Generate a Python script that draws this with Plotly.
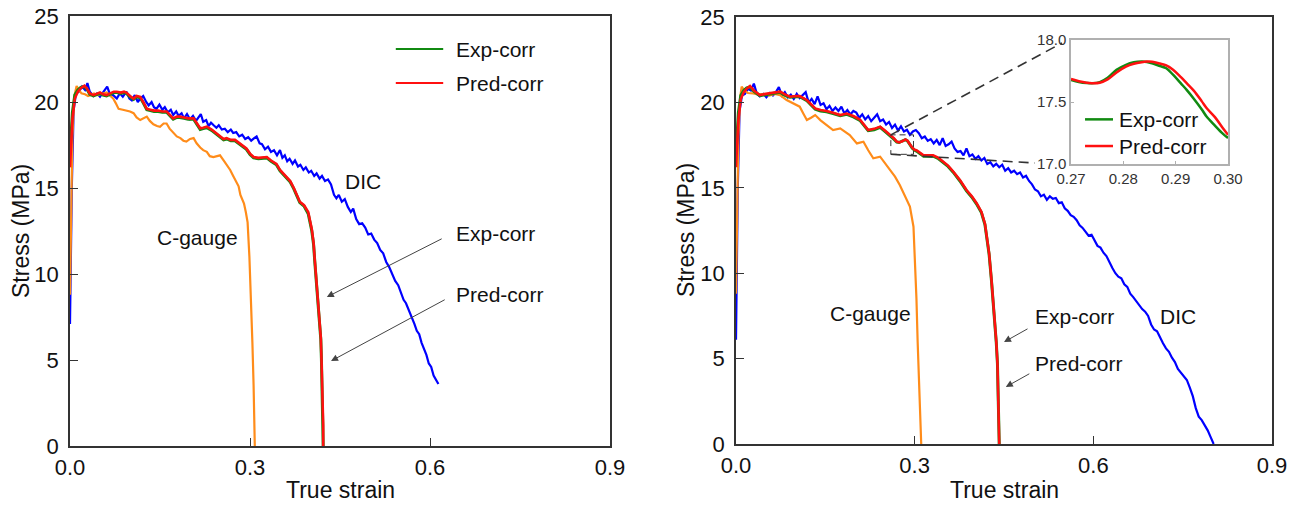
import plotly.graph_objects as go

# ---------------- data ----------------
# Left panel
dic1_x = [0, 0.003, 0.006, 0.010, 0.015, 0.020, 0.025, 0.029, 0.033, 0.039, 0.045, 0.050, 0.056, 0.062,
          0.067, 0.072, 0.078, 0.083, 0.088, 0.094, 0.099, 0.103, 0.108, 0.113, 0.117, 0.122, 0.127, 0.131,
          0.136, 0.140, 0.144, 0.149, 0.154, 0.158, 0.163, 0.168, 0.172, 0.177, 0.181, 0.186, 0.190, 0.195,
          0.200, 0.205, 0.210, 0.214, 0.218, 0.222, 0.227, 0.231, 0.235, 0.239, 0.244, 0.248, 0.253, 0.258,
          0.263, 0.268, 0.272, 0.277, 0.282, 0.287, 0.292, 0.297, 0.302, 0.307, 0.311, 0.316, 0.320, 0.325,
          0.330, 0.335, 0.340, 0.345, 0.350, 0.354, 0.358, 0.362, 0.366, 0.371, 0.375, 0.380, 0.384, 0.389,
          0.393, 0.398, 0.402, 0.407, 0.411, 0.416, 0.420, 0.425, 0.430, 0.435, 0.440, 0.444, 0.448, 0.453,
          0.458, 0.463, 0.468, 0.472, 0.477, 0.482, 0.487, 0.492, 0.497, 0.502, 0.507, 0.512, 0.517, 0.522,
          0.527, 0.532, 0.537, 0.542, 0.547, 0.551, 0.556, 0.560, 0.565, 0.570, 0.574, 0.578, 0.582, 0.586,
          0.590, 0.594, 0.598, 0.602, 0.606, 0.610, 0.614]
dic1_y = [7.1, 15.0, 19.5, 20.5, 20.6, 20.9, 20.7, 21.1, 20.6, 20.35, 20.5, 20.3, 20.6, 20.9,
          20.4, 20.4, 20.2, 20.5, 20.3, 20.6, 20.2, 20.1, 20.4, 20.0, 20.2, 20.35, 20.0, 19.8,
          20.0, 19.7, 19.6, 19.85, 19.55, 19.7, 19.4, 19.55, 19.25, 19.45, 19.2, 19.35, 19.05, 19.3,
          19.0, 19.2, 18.9, 19.1, 19.3, 18.85, 18.95, 18.6, 18.8, 18.66, 18.5, 18.65, 18.4, 18.45,
          18.25, 18.4, 18.2, 18.25, 18.0, 18.1, 17.85, 17.95, 17.75, 17.9, 18.0, 17.6, 17.55, 17.25,
          17.4, 17.1, 17.2, 16.9, 17.2, 16.75, 16.9, 16.55, 16.7, 16.4, 16.6, 16.25, 16.35, 16.05,
          16.2, 15.9, 16.0, 15.7, 15.85, 15.55, 15.7, 15.4, 15.5, 15.2, 14.6, 14.4, 14.6, 14.2,
          14.35, 13.9, 13.6, 13.8, 13.2, 12.9, 12.95, 12.7, 12.3, 12.35, 12.0, 11.8, 11.4, 11.2,
          10.7, 10.4, 10.0, 9.6, 9.35, 9.0, 8.5, 8.3, 7.9, 7.5, 7.1, 6.7, 6.5, 6.0,
          5.7, 5.3, 4.8, 4.6, 4.1, 3.8, 3.6]

cg1_x = [0, 0.002, 0.004, 0.007, 0.011, 0.015, 0.019, 0.025, 0.030, 0.034, 0.040, 0.046, 0.052, 0.057,
         0.061, 0.066, 0.072, 0.076, 0.081, 0.088, 0.095, 0.100, 0.106, 0.111, 0.117, 0.122, 0.128, 0.133,
         0.139, 0.145, 0.150, 0.156, 0.161, 0.166, 0.172, 0.178, 0.184, 0.189, 0.194, 0.200, 0.206, 0.211,
         0.217, 0.222, 0.228, 0.233, 0.239, 0.245, 0.250, 0.256, 0.262, 0.267, 0.272, 0.277, 0.281, 0.284,
         0.287, 0.290, 0.293, 0.296, 0.299, 0.302, 0.304, 0.306, 0.307, 0.308]
cg1_y = [8.8, 14.0, 18.0, 20.3, 20.93, 20.7, 20.5, 20.45, 20.35, 20.4, 20.5, 20.4, 20.45, 20.5,
         20.55, 20.4, 20.2, 19.95, 19.6, 19.55, 19.5, 19.45, 19.35, 19.1, 18.95, 19.05, 19.15, 18.9,
         18.7, 18.6, 18.56, 18.75, 18.75, 18.45, 18.2, 18.0, 17.9, 17.75, 17.7, 17.85, 17.9, 17.6,
         17.35, 17.2, 17.1, 16.85, 16.8, 16.85, 16.9, 16.6, 16.3, 16.05, 15.7, 15.35, 15.1, 14.6,
         14.3, 14.1, 13.6, 13.0, 11.0, 8.5, 6.0, 3.5, 1.5, 0.0]

pred1_x = [0, 0.004, 0.008, 0.013, 0.018, 0.024, 0.028, 0.033, 0.039, 0.045, 0.050, 0.055, 0.061, 0.067,
           0.073, 0.078, 0.085, 0.090, 0.094, 0.100, 0.106, 0.111, 0.117, 0.122, 0.128, 0.134, 0.140, 0.147,
           0.154, 0.161, 0.167, 0.172, 0.178, 0.183, 0.190, 0.197, 0.206, 0.212, 0.217, 0.222, 0.228, 0.236,
           0.244, 0.250, 0.256, 0.261, 0.268, 0.275, 0.282, 0.289, 0.294, 0.300, 0.306, 0.314, 0.322, 0.328,
           0.335, 0.344, 0.350, 0.356, 0.362, 0.367, 0.373, 0.378, 0.383, 0.390, 0.397, 0.403, 0.406, 0.408,
           0.411, 0.414, 0.416, 0.418, 0.419, 0.420, 0.421, 0.422, 0.422]
pred1_y = [16.2, 19.0, 20.2, 20.6, 20.8, 20.95, 20.8, 20.5, 20.4, 20.5, 20.55, 20.45, 20.4, 20.5,
           20.6, 20.6, 20.55, 20.6, 20.55, 20.35, 20.2, 20.35, 20.3, 20.0, 19.6, 19.55, 19.5, 19.5,
           19.45, 19.45, 19.25, 19.05, 19.15, 19.15, 19.1, 19.05, 19.05, 18.7, 18.47, 18.5, 18.57, 18.4,
           18.2, 18.0, 17.85, 17.9, 17.8, 17.8, 17.6, 17.4, 17.3, 17.0, 16.8, 16.75, 16.8, 16.8,
           16.6, 16.4, 16.05, 15.8, 15.6, 15.4, 15.0, 14.6, 14.2, 14.0, 13.6, 12.6, 11.8, 10.8,
           9.5, 8.3, 7.5, 6.3, 5.2, 4.0, 2.6, 1.2, 0.0]
exp1_y = [17.0, 19.4, 20.4, 20.7, 20.85, 20.9, 20.75, 20.45, 20.35, 20.45, 20.5, 20.4, 20.35, 20.45,
          20.55, 20.55, 20.5, 20.55, 20.5, 20.3, 20.15, 20.3, 20.25, 19.95, 19.55, 19.5, 19.45, 19.45,
          19.4, 19.4, 19.2, 19.0, 19.1, 19.1, 19.05, 19.0, 19.0, 18.65, 18.4, 18.45, 18.5, 18.35,
          18.15, 17.95, 17.8, 17.85, 17.75, 17.75, 17.55, 17.35, 17.25, 16.95, 16.75, 16.7, 16.75, 16.75,
          16.55, 16.35, 16.0, 15.75, 15.55, 15.35, 14.95, 14.55, 14.15, 13.95, 13.5, 12.5, 11.7, 10.7,
          9.4, 8.2, 7.4, 6.2, 5.1, 3.9, 2.5, 1.1, 0.0]

# Right panel
dic2_x = [0, 0.003, 0.006, 0.010, 0.015, 0.020, 0.025, 0.030, 0.035, 0.040, 0.046, 0.051, 0.057, 0.062,
          0.067, 0.072, 0.077, 0.082, 0.087, 0.092, 0.097, 0.102, 0.107, 0.112, 0.117, 0.122, 0.127, 0.132,
          0.137, 0.142, 0.147, 0.152, 0.157, 0.162, 0.167, 0.172, 0.177, 0.182, 0.187, 0.192, 0.197, 0.202,
          0.207, 0.212, 0.217, 0.222, 0.227, 0.232, 0.237, 0.242, 0.247, 0.252, 0.257, 0.262, 0.267, 0.272,
          0.277, 0.282, 0.287, 0.292, 0.297, 0.302, 0.307, 0.312, 0.317, 0.322, 0.327, 0.332, 0.337, 0.342,
          0.347, 0.352, 0.357, 0.362, 0.367, 0.372, 0.377, 0.382, 0.387, 0.392, 0.397, 0.402, 0.407, 0.412,
          0.417, 0.422, 0.427, 0.432, 0.437, 0.442, 0.447, 0.452, 0.457, 0.462, 0.467, 0.472, 0.477, 0.482,
          0.487, 0.492, 0.497, 0.502, 0.507, 0.512, 0.517, 0.522, 0.527, 0.532, 0.537, 0.542, 0.547, 0.552,
          0.557, 0.562, 0.567, 0.572, 0.577, 0.582, 0.587, 0.592, 0.597, 0.602, 0.607, 0.612, 0.617, 0.622,
          0.627, 0.632, 0.637, 0.642, 0.647, 0.652, 0.657, 0.662, 0.667, 0.672, 0.677, 0.682, 0.687, 0.692,
          0.697, 0.702, 0.707, 0.712, 0.717, 0.722, 0.727, 0.732, 0.737, 0.742, 0.747, 0.752, 0.757, 0.762,
          0.767, 0.772, 0.777, 0.782, 0.787, 0.792, 0.797, 0.802]
dic2_y = [6.1, 15.0, 19.5, 20.4, 20.5, 20.8, 20.7, 21.1, 20.5, 20.35, 20.5, 20.3, 20.55, 20.4,
          20.6, 20.9, 20.4, 20.6, 20.3, 20.45, 20.2, 20.5, 20.25, 20.4, 20.6, 20.0, 20.2, 19.9,
          20.35, 19.85, 19.95, 19.6, 19.8, 19.5, 19.7, 19.5, 19.75, 19.35, 19.55, 19.3, 19.5, 19.4,
          19.1, 19.3, 19.0, 19.2, 18.9, 19.1, 19.3, 18.9, 19.0, 18.7, 18.85, 18.5, 18.7, 18.35,
          18.6, 18.3, 18.4, 18.1, 18.3, 18.38, 18.2, 17.9, 18.0, 17.75, 17.85, 17.6, 17.8, 17.5,
          17.9, 17.45, 17.55, 17.7, 17.3, 17.1, 17.15, 16.9, 17.3, 16.85, 16.95, 16.7, 16.85, 16.6,
          16.75, 16.4, 16.5, 16.25, 16.4, 16.2, 16.35, 16.0, 16.15, 15.9, 16.0, 15.8, 15.9, 15.6,
          15.7, 15.4, 15.2, 14.9, 14.8, 14.5, 14.6, 14.3, 14.5, 14.35, 14.4, 14.1, 14.15, 13.8,
          13.65, 13.4, 13.3, 13.1, 12.8, 12.65, 12.4, 12.2, 12.25, 11.9, 11.6, 11.5, 11.2, 11.0,
          10.6, 10.3, 10.0, 9.8, 9.7, 9.35, 9.2, 8.8, 8.6, 8.35, 8.1, 7.9, 7.75, 7.5,
          7.0, 6.7, 6.6, 6.2, 5.9, 5.6, 5.4, 5.05, 4.8, 4.4, 4.2, 4.0, 3.75, 3.3,
          2.8, 2.1, 1.6, 1.4, 1.1, 0.8, 0.4, 0.0]

cg2_x = [0, 0.002, 0.004, 0.007, 0.0095, 0.014, 0.020, 0.029, 0.038, 0.047, 0.056, 0.065, 0.074, 0.085,
         0.096, 0.107, 0.113, 0.119, 0.126, 0.133, 0.142, 0.152, 0.163, 0.175, 0.183, 0.191, 0.203, 0.214,
         0.222, 0.2305, 0.242, 0.250, 0.259, 0.267, 0.275, 0.284, 0.292, 0.298, 0.3005, 0.303, 0.305, 0.307,
         0.309, 0.310, 0.311]
cg2_y = [8.8, 14.0, 18.0, 20.3, 20.92, 20.7, 20.55, 20.53, 20.45, 20.5, 20.4, 20.5, 20.43, 20.14,
         19.95, 19.75, 19.35, 18.97, 19.1, 19.26, 18.95, 18.68, 18.38, 18.48, 18.3, 18.09, 17.6, 17.7,
         17.2, 16.73, 16.82, 16.45, 16.04, 15.65, 15.16, 14.48, 13.9, 12.72, 10.77, 8.5, 6.0, 3.8,
         1.8, 0.8, 0.0]

pred2_x = [0, 0.004, 0.008, 0.013, 0.018, 0.0235, 0.030, 0.040, 0.050, 0.060, 0.074, 0.083, 0.0907, 0.100,
           0.107, 0.119, 0.133, 0.142, 0.152, 0.163, 0.175, 0.186, 0.197, 0.208, 0.222, 0.232, 0.242, 0.250,
           0.259, 0.265, 0.270, 0.274, 0.279, 0.2845, 0.288, 0.292, 0.296, 0.300, 0.303, 0.315, 0.322, 0.331,
           0.340, 0.348, 0.356, 0.365, 0.376, 0.387, 0.396, 0.404, 0.412, 0.418, 0.422, 0.425, 0.429, 0.432,
           0.435, 0.437, 0.439, 0.440, 0.441, 0.442, 0.442]
pred2_y = [16.2, 19.0, 20.2, 20.6, 20.8, 20.96, 20.7, 20.43, 20.5, 20.55, 20.63, 20.45, 20.33, 20.37,
           20.37, 20.14, 19.65, 19.55, 19.5, 19.4, 19.26, 19.35, 19.2, 19.0, 18.38, 18.45, 18.58, 18.35,
           18.1, 17.9, 17.7, 17.66, 17.72, 17.83, 17.76, 17.55, 17.35, 17.22, 17.2, 16.9, 16.9, 16.9,
           16.75, 16.53, 16.3, 15.94, 15.45, 14.87, 14.5, 14.1, 13.6, 12.9, 12.0, 11.16, 9.6, 8.4,
           7.26, 6.0, 4.72, 3.3, 2.0, 0.8, 0.0]
exp2_y = [17.0, 19.4, 20.4, 20.7, 20.85, 20.9, 20.65, 20.4, 20.45, 20.5, 20.6, 20.4, 20.3, 20.33,
          20.33, 20.1, 19.6, 19.5, 19.45, 19.35, 19.22, 19.3, 19.15, 18.95, 18.35, 18.4, 18.54, 18.3,
          18.05, 17.85, 17.68, 17.65, 17.74, 17.82, 17.74, 17.52, 17.32, 17.2, 17.15, 16.85, 16.85, 16.85,
          16.7, 16.48, 16.25, 15.9, 15.4, 14.82, 14.45, 14.05, 13.55, 12.85, 11.95, 11.1, 9.55, 8.35,
          7.2, 5.95, 4.7, 3.25, 1.95, 0.75, 0.0]

# Inset (zoom of the right panel, 0.27-0.30)
inset_x = [0.2700, 0.2715, 0.2730, 0.2740, 0.2755, 0.2770, 0.2787, 0.2805, 0.2820, 0.2835, 0.2845,
           0.2855, 0.2870, 0.2882, 0.2895, 0.2910, 0.2921, 0.2935, 0.2950, 0.2959, 0.2975, 0.2990, 0.3000]
inset_exp = [17.678, 17.662, 17.653, 17.651, 17.660, 17.695, 17.759, 17.800, 17.820, 17.826, 17.823,
             17.812, 17.790, 17.772, 17.720, 17.650, 17.598, 17.525, 17.440, 17.383, 17.310, 17.245, 17.210]
inset_pred = [17.686, 17.668, 17.656, 17.652, 17.656, 17.682, 17.738, 17.785, 17.808, 17.821, 17.826,
              17.825, 17.810, 17.795, 17.760, 17.700, 17.652, 17.590, 17.505, 17.452, 17.378, 17.290, 17.236]

x_ticks = [0.0, 0.3, 0.6, 0.9]
y_ticks = [0, 5, 10, 15, 20, 25]
inset_x_ticks = [0.27, 0.28, 0.29, 0.30]
inset_y_ticks = [17.0, 17.5, 18.0]
x_title = "True strain"
y_title = "Stress (MPa)"

# ---------------- styling ----------------
BLUE = "#0000ff"
ORANGE = "#ff8c1a"
GREEN = "#118a11"
RED = "#ff1010"
FONT = "Arial, Liberation Sans, sans-serif"
TXT = "#111111"
W, H = 1300, 505


def px_dom(a, b, total):
    return [a / total, b / total]


def py_dom(top, bottom):
    return [1 - bottom / H, 1 - top / H]


fig = go.Figure()

# left panel
fig.add_trace(go.Scatter(x=dic1_x, y=dic1_y, mode="lines", line=dict(color=BLUE, width=2.2), xaxis="x", yaxis="y", name="DIC"))
fig.add_trace(go.Scatter(x=cg1_x, y=cg1_y, mode="lines", line=dict(color=ORANGE, width=2.2), xaxis="x", yaxis="y", name="C-gauge"))
fig.add_trace(go.Scatter(x=pred1_x, y=exp1_y, mode="lines", line=dict(color=GREEN, width=3), xaxis="x", yaxis="y", name="Exp-corr"))
fig.add_trace(go.Scatter(x=pred1_x, y=pred1_y, mode="lines", line=dict(color=RED, width=2.6), xaxis="x", yaxis="y", name="Pred-corr"))

# right panel
fig.add_trace(go.Scatter(x=dic2_x, y=dic2_y, mode="lines", line=dict(color=BLUE, width=2.2), xaxis="x2", yaxis="y2", name="DIC"))
fig.add_trace(go.Scatter(x=cg2_x, y=cg2_y, mode="lines", line=dict(color=ORANGE, width=2.2), xaxis="x2", yaxis="y2", name="C-gauge"))
fig.add_trace(go.Scatter(x=pred2_x, y=exp2_y, mode="lines", line=dict(color=GREEN, width=3), xaxis="x2", yaxis="y2", name="Exp-corr"))
fig.add_trace(go.Scatter(x=pred2_x, y=pred2_y, mode="lines", line=dict(color=RED, width=2.6), xaxis="x2", yaxis="y2", name="Pred-corr"))

# inset
fig.add_trace(go.Scatter(x=inset_x, y=inset_exp, mode="lines", line=dict(color=GREEN, width=2.5, shape="spline"), xaxis="x3", yaxis="y3", name="Exp-corr"))
fig.add_trace(go.Scatter(x=inset_x, y=inset_pred, mode="lines", line=dict(color=RED, width=2.5, shape="spline"), xaxis="x3", yaxis="y3", name="Pred-corr"))

main_axis = dict(showline=True, linecolor="#333333", linewidth=1.5, mirror=True, ticks="inside",
                 ticklen=8, tickwidth=1.3, tickcolor="#333333", showgrid=False, zeroline=False,
                 automargin=False, tickfont=dict(family=FONT, size=22, color=TXT))

fig.update_layout(
    width=W, height=H, margin=dict(l=0, r=0, t=0, b=0, autoexpand=False),
    paper_bgcolor="white", plot_bgcolor="white", showlegend=False,
    font=dict(family=FONT, color=TXT),
    xaxis=dict(main_axis, domain=px_dom(70, 610, W), range=[0, 0.9], tickvals=x_ticks, tickformat=".1f",
               anchor="y", ticklabelstandoff=1),
    yaxis=dict(main_axis, domain=py_dom(16, 446), range=[0, 25], tickvals=y_ticks, anchor="x",
               ticklabelstandoff=5),
    xaxis2=dict(main_axis, domain=px_dom(736, 1272, W), range=[0, 0.9], tickvals=x_ticks, tickformat=".1f",
                anchor="y2", ticklabelstandoff=1),
    yaxis2=dict(main_axis, domain=py_dom(17, 444), range=[0, 25], tickvals=y_ticks, anchor="x2",
                ticklabelstandoff=5),
    xaxis3=dict(domain=px_dom(1071, 1228, W), range=[0.27, 0.30], tickvals=inset_x_ticks, tickformat=".2f",
                anchor="y3", showline=True, linecolor="#b0b0b0", linewidth=1.5, mirror=True, ticks="inside",
                ticklen=3, tickcolor="#b0b0b0", showgrid=False, zeroline=False, automargin=False,
                tickfont=dict(family=FONT, size=15, color="#333333")),
    yaxis3=dict(domain=py_dom(40, 164), range=[17.0, 18.0], tickvals=inset_y_ticks, tickformat=".1f",
                anchor="x3", showline=True, linecolor="#b0b0b0", linewidth=1.5, mirror=True, ticks="inside",
                ticklen=3, tickcolor="#b0b0b0", showgrid=False, zeroline=False, automargin=False,
                tickfont=dict(family=FONT, size=15, color="#333333")),
)

DASH = "10px,6px"
shapes = []
# left legend samples
shapes.append(dict(type="line", xref="x", yref="y", x0=0.543, x1=0.622, y0=23.08, y1=23.08, line=dict(color=GREEN, width=2)))
shapes.append(dict(type="line", xref="x", yref="y", x0=0.543, x1=0.622, y0=21.1, y1=21.1, line=dict(color=RED, width=2)))
# inset legend samples
shapes.append(dict(type="line", xref="x3", yref="y3", x0=0.27268, x1=0.27803, y0=17.36, y1=17.36, line=dict(color=GREEN, width=2.5)))
shapes.append(dict(type="line", xref="x3", yref="y3", x0=0.27268, x1=0.27803, y0=17.145, y1=17.145, line=dict(color=RED, width=2.5)))
# zoom box and leader lines in right panel
shapes.append(dict(type="rect", xref="x2", yref="y2", x0=0.26, x1=0.298, y0=16.96, y1=18.1,
                   line=dict(color="#333333", width=1, dash="6px,4px")))
shapes.append(dict(type="line", xref="x2", yref="y2", x0=0.26, y0=18.1, x1=0.5474, y1=23.48,
                   line=dict(color="#333333", width=1.6, dash=DASH)))
shapes.append(dict(type="line", xref="x2", yref="y2", x0=0.26, y0=16.96, x1=0.502, y1=16.45,
                   line=dict(color="#333333", width=1.6, dash=DASH)))
fig.update_layout(shapes=shapes)

ann = []


def label(text, x, y, xref, yref, xanchor="left", size=21):
    ann.append(dict(text=text, x=x, y=y, xref=xref, yref=yref, showarrow=False, xanchor=xanchor,
                    yanchor="middle", font=dict(family=FONT, size=size, color=TXT)))


def arrow(x, y, ax, ay, xref, yref):
    ann.append(dict(text="", x=x, y=y, ax=ax, ay=ay, xref=xref, yref=yref, axref=xref, ayref=yref,
                    showarrow=True, arrowhead=2, arrowsize=1.4, arrowwidth=1, arrowcolor="#444444"))


def title(text, xpx, ypx, angle=0):
    ann.append(dict(text=text, x=xpx / W, y=1 - ypx / H, xref="paper", yref="paper", showarrow=False,
                    xanchor="center", yanchor="middle", textangle=angle,
                    font=dict(family=FONT, size=23, color=TXT)))


# axis titles
title(x_title, 340, 490)
title(x_title, 1004, 490)
title(y_title, 21, 231, -90)
title(y_title, 686, 230, -90)

# left panel texts
label("Exp-corr", 0.64, 23.08, "x", "y")
label("Pred-corr", 0.64, 21.1, "x", "y")
label("DIC", 0.489, 15.35, "x", "y", "center")
label("C-gauge", 0.213, 12.1, "x", "y", "center")
label("Exp-corr", 0.64, 12.38, "x", "y")
label("Pred-corr", 0.64, 8.78, "x", "y")
arrow(0.428, 8.66, 0.622, 12.09, "x", "y")
arrow(0.435, 4.94, 0.627, 8.55, "x", "y")

# right panel texts
label("DIC", 0.742, 7.49, "x2", "y2", "center")
label("C-gauge", 0.225, 7.67, "x2", "y2", "center")
label("Exp-corr", 0.4987, 7.44, "x2", "y2")
label("Pred-corr", 0.4987, 4.74, "x2", "y2")
arrow(0.450, 5.97, 0.492, 6.79, "x2", "y2")
arrow(0.453, 3.34, 0.495, 4.16, "x2", "y2")

# inset legend texts
label("Exp-corr", 0.27879, 17.36, "x3", "y3")
label("Pred-corr", 0.27879, 17.145, "x3", "y3")

fig.update_layout(annotations=ann)

fig.write_html("out.html")
